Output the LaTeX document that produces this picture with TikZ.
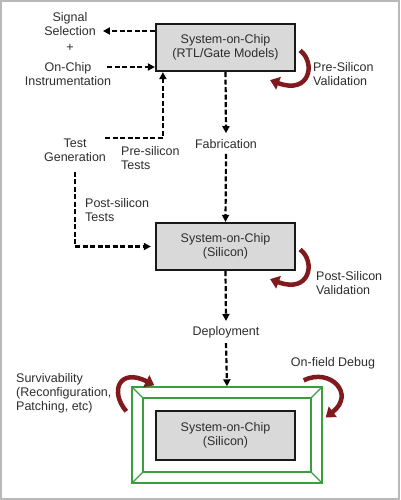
\documentclass[tikz,border=0pt]{standalone}
\usepackage{fontspec}
\setmainfont{Liberation Sans}
\usetikzlibrary{arrows.meta,positioning}

\definecolor{swooshred}{RGB}{128,26,30}
\definecolor{fieldgreen}{RGB}{58,158,62}
\definecolor{chipgray}{RGB}{217,217,217}
\definecolor{txtgray}{RGB}{45,45,45}

\tikzset{
  chipbox/.style={draw=black!90, line width=2.2pt, fill=chipgray, minimum width=139pt,
    minimum height=47pt, align=center, text=txtgray},
  lbl/.style={align=center, text=txtgray, inner sep=1pt},
  lbll/.style={align=left, text=txtgray, inner sep=1pt},
  dflow/.style={line width=2.2pt, dash pattern=on 5pt off 2.5pt, -{Triangle[length=7pt,width=7pt]}},
  swoosh/.style={draw=swooshred, line width=4.5pt, -{Triangle[length=9pt,width=13pt]}},
  fieldline/.style={draw=fieldgreen, line width=1.4pt},
}

\begin{document}
\begin{tikzpicture}[x=1pt, y=-1pt, font=\fontsize{12.5}{14}\selectfont]
  \useasboundingbox (0,0) rectangle (400,500);
  \draw[gray!55, line width=2pt] (1,1) rectangle (399,499);

  % chips
  \node[chipbox] (rtl) at (225.5,47.5) {System-on-Chip\\(RTL/Gate Models)};
  \node[chipbox] (si) at (225.5,246.5) {System-on-Chip\\(Silicon)};

  % field frame
  \node[fieldline, minimum width=190pt, minimum height=96pt] (field) at (227,435) {};
  \node[fieldline, minimum width=168pt, minimum height=74pt] (fieldin) at (field) {};
  \foreach \c in {north west, north east, south west, south east}
    \draw[fieldline] (field.\c) -- (fieldin.\c);
  \node[chipbox, minimum height=49pt] (sof) at (225.5,435.5) {System-on-Chip\\(Silicon)};

  % labels
  \node[lbl] (sig) at (70,24) {Signal\\Selection};
  \node[lbl] (plus) at (70,48) {+};
  \node[lbl] (inst) at (68,74) {On-Chip\\Instrumentation};
  \node[lbl] (testgen) at (75,150) {Test\\Generation};
  \node[lbll, anchor=west] (presil) at (120,158) {Pre-silicon\\Tests};
  \node[lbl] (fab) at (226,144) {Fabrication};
  \node[lbll, anchor=west] (postsil) at (84,210) {Post-silicon\\Tests};
  \node[lbll, anchor=west] (preval) at (312,74) {Pre-Silicon\\Validation};
  \node[lbll, anchor=west] (postval) at (315,283) {Post-Silicon\\Validation};
  \node[lbl] (dep) at (226,332) {Deployment};
  \node[lbll, anchor=west] (surv) at (15,393) {Survivability\\(Reconfiguration,\\Patching, etc)};
  \node[lbl] (debug) at (333,363) {On-field Debug};

  % dashed flows
  \coordinate (sigin) at ([xshift=6pt,yshift=-7pt]sig.east);
  \draw[dflow] (sigin -| rtl.west) -- (sigin);
  \coordinate (instout) at ([xshift=-5pt,yshift=7pt]inst.east);
  \draw[dflow] (instout) -- (instout -| rtl.west);
  \draw[dflow] ([xshift=-2pt,yshift=12pt]testgen.east) -| ([xshift=8pt]rtl.south west);
  \draw[dflow] ([yshift=-9pt]testgen.south) |- ([xshift=-4pt]si.west);
  \draw[dflow] (rtl.south) -- ([yshift=5pt]fab.north);
  \draw[dflow] ([yshift=-4pt]fab.south) -- (si.north);
  \draw[dflow] (si.south) -- ([yshift=4pt]dep.north);
  \draw[dflow] ([yshift=-4pt]dep.south) -- (field.north);

  % validation / debug swooshes
  \draw[swoosh] ([xshift=4pt,yshift=-3pt]rtl.east) .. controls +(16,12) and +(40,15) .. ([xshift=-26pt,yshift=-8pt]rtl.south east);
  \draw[swoosh] ([xshift=4pt,yshift=-3pt]si.east) .. controls +(16,12) and +(40,15) .. ([xshift=-26pt,yshift=-8pt]si.south east);
  \draw[swoosh] ([xshift=-5pt,yshift=-25pt]field.north west) .. controls +(-17,-20) and +(-35,-18) .. ([xshift=23pt,yshift=1pt]field.north west);
  \draw[swoosh] ([xshift=-19pt,yshift=6pt]field.north east) .. controls +(27,-13) and +(30,-23) .. ([xshift=3pt,yshift=-31pt]field.north east);
\end{tikzpicture}
\end{document}
